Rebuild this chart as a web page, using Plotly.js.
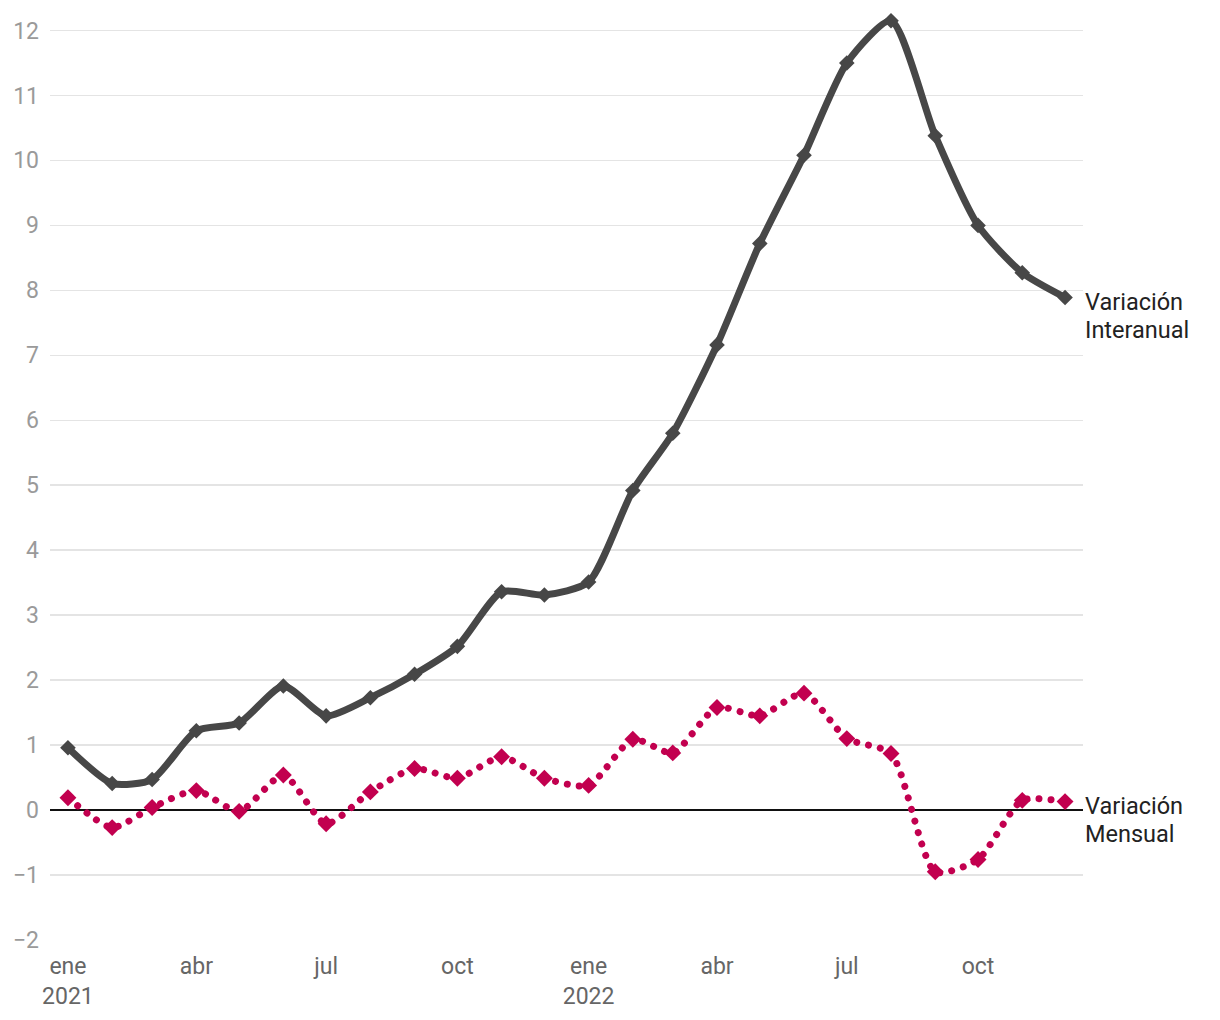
<!DOCTYPE html>
<html>
<head>
<meta charset="utf-8">
<script src="https://cdn.plot.ly/plotly-3.0.1.min.js"></script>
<style>
  html, body { margin: 0; padding: 0; background: #fff; }
  #chart { width: 1220px; height: 1020px; }
</style>
</head>
<body>
<div id="chart"></div>
<script>
// Months (first of each month)
const months = [
  '2021-01-01','2021-02-01','2021-03-01','2021-04-01','2021-05-01','2021-06-01',
  '2021-07-01','2021-08-01','2021-09-01','2021-10-01','2021-11-01','2021-12-01',
  '2022-01-01','2022-02-01','2022-03-01','2022-04-01','2022-05-01','2022-06-01',
  '2022-07-01','2022-08-01','2022-09-01','2022-10-01','2022-11-01','2022-12-01'
];

// Variación Interanual (%)
const interanual = [
  0.96, 0.41, 0.47, 1.22, 1.34, 1.91,
  1.45, 1.73, 2.09, 2.52, 3.36, 3.31,
  3.51, 4.92, 5.80, 7.16, 8.72, 10.08,
  11.50, 12.15, 10.38, 9.00, 8.27, 7.89
];

// Variación Mensual (%)
const mensual = [
  0.19, -0.27, 0.04, 0.30, -0.02, 0.54,
  -0.21, 0.28, 0.64, 0.49, 0.82, 0.49,
  0.38, 1.09, 0.88, 1.58, 1.45, 1.80,
  1.10, 0.87, -0.95, -0.76, 0.15, 0.13
];

// Axis ticks
const xTickVals = ['2021-01-01','2021-04-01','2021-07-01','2021-10-01','2022-01-01','2022-04-01','2022-07-01','2022-10-01'];
const xTickText = ['ene<br>2021','abr','jul','oct','ene<br>2022','abr','jul','oct'];
const yTickVals = [-2,-1,0,1,2,3,4,5,6,7,8,9,10,11,12];

// End-of-line labels (one entry per text line)
const labelInteranual = ['Variación', 'Interanual'];
const labelMensual = ['Variación', 'Mensual'];

const grayColor = '#474747';
const pinkColor = '#c2004f';
const FONT = 'Roboto, sans-serif';

const traces = [
  {
    x: months, y: interanual, type: 'scatter', mode: 'lines+markers',
    line: { color: grayColor, width: 7, shape: 'spline', smoothing: 0.65 },
    marker: { symbol: 'diamond', size: 12, color: grayColor },
    hoverinfo: 'skip', showlegend: false
  },
  {
    x: months, y: mensual, type: 'scatter', mode: 'lines+markers',
    line: { color: pinkColor, width: 7, shape: 'spline', smoothing: 0.65, dash: 'dot' },
    marker: { symbol: 'diamond', size: 13, color: pinkColor },
    hoverinfo: 'skip', showlegend: false
  }
];

const last = months.length - 1;
function labelLines(lines, yVal) {
  return lines.map(function (t, i) {
    return {
      x: months[last], y: yVal, xref: 'x', yref: 'y',
      text: t, showarrow: false, xanchor: 'left', yanchor: 'middle',
      align: 'left', xshift: 18, yshift: -4 - 28 * i,
      font: { family: FONT, size: 23.5, color: '#222' }
    };
  });
}

const layout = {
  width: 1220, height: 1020,
  margin: { l: 50, r: 137, t: 10.5, b: 80, pad: 0 },
  paper_bgcolor: '#fff', plot_bgcolor: '#fff',
  font: { family: FONT, size: 24, color: '#222' },
  showlegend: false,
  xaxis: {
    type: 'date',
    range: ['2020-12-19 10:00', '2022-12-13 14:00'],
    tickmode: 'array', tickvals: xTickVals, ticktext: xTickText,
    showgrid: false, zeroline: false, showline: false, ticks: '',
    ticklabelstandoff: 10,
    tickfont: { family: FONT, size: 23, color: '#666' }
  },
  yaxis: {
    range: [-2, 12.3],
    tickmode: 'array', tickvals: yTickVals,
    showgrid: true, gridcolor: '#e4e4e4', gridwidth: 1.5,
    zeroline: true, zerolinecolor: '#111', zerolinewidth: 2,
    showline: false, ticks: '', ticklabelstandoff: 10,
    tickfont: { family: FONT, size: 23, color: '#9a9a9a' }
  },
  annotations: labelLines(labelInteranual, interanual[last]).concat(labelLines(labelMensual, mensual[last]))
};

Plotly.newPlot('chart', traces, layout, { displayModeBar: false, staticPlot: true }).then(function () {
  const tr = document.querySelectorAll('.scatterlayer .trace');
  if (tr.length > 1) {
    const p = tr[1].querySelector('path.js-line');
    if (p) {
      p.style.strokeLinecap = 'round';
      p.style.strokeDasharray = '0.01px,12px';
    }
  }
});
</script>
</body>
</html>
